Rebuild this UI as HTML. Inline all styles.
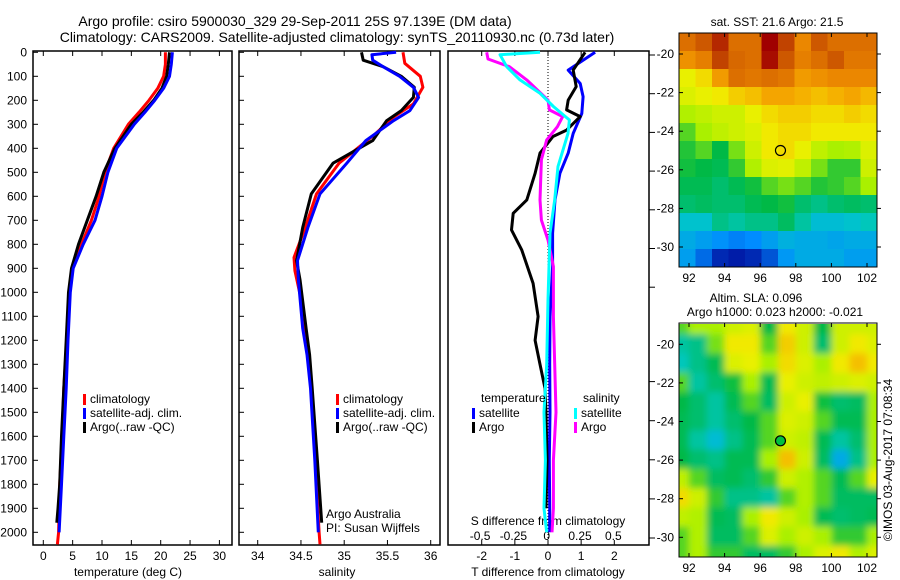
<!DOCTYPE html>
<html><head><meta charset="utf-8">
<style>
html,body{margin:0;padding:0;background:#fff;}
svg{display:block;font-family:"Liberation Sans",sans-serif;}
</style></head>
<body>
<svg id="fig" width="900" height="580" viewBox="0 0 900 580" xmlns="http://www.w3.org/2000/svg">
<defs>
<clipPath id="clipTop"><rect x="679" y="33" width="198" height="234"/></clipPath>
<clipPath id="clipBot"><rect x="679" y="324" width="198" height="233"/></clipPath>
<filter id="blur" x="-5%" y="-5%" width="110%" height="110%"><feGaussianBlur stdDeviation="3.5"/></filter>
</defs>
<text x="295" y="26" font-size="14" text-anchor="middle">Argo profile: csiro 5900030_329 29-Sep-2011 25S 97.139E (DM data)</text>
<text x="337" y="42" font-size="14" text-anchor="middle">Climatology: CARS2009. Satellite-adjusted climatology: synTS_20110930.nc (0.73d later)</text>
<g id="g1"></g>
<g id="g2"></g>
<g id="g3"></g>
<g id="g4"></g>
<g id="g5"></g>
<text x="0" y="0" font-size="12" transform="translate(892,460) rotate(-90)" text-anchor="middle">©IMOS 03-Aug-2017 07:08:34</text>
</svg>
<script>
// ---------- data ----------
const depthTicks = [0,100,200,300,400,500,600,700,800,900,1000,1100,1200,1300,1400,1500,1600,1700,1800,1900,2000];
const tempTicks = [0,5,10,15,20,25,30];
const salTicks = [34,34.5,35,35.5,36];
const tdiffTicks = [-2,-1,0,1,2];
const sdiffTicks = [-0.5,-0.25,0,0.25,0.5];
const sdiffTickLabels = ["-0.5","-0.25","0","0.25","0.5"];

const tClimDepth = [0,50,100,150,200,250,300,400,500,600,700,800,900,1000,1200,1400,1600,1800,2000,2050];
const tClimVal   = [20.8,20.8,20.5,19.5,18,16.3,14.5,12,10.5,9.5,8.2,6.5,5,4.5,4,3.5,3.2,2.8,2.6,2.4];
const tSatDepth  = [0,50,100,150,200,250,300,400,500,600,700,800,900,1000,1200,1400,1600,1800,2000];
const tSatVal    = [22,21.8,21.5,20.5,19,17.3,15.5,12.5,11,10,8.8,6.8,5.1,4.6,4.2,3.9,3.5,3.1,2.7];
const tArgoDepth = [0,50,100,150,200,250,300,400,500,600,700,800,900,1000,1200,1400,1600,1800,1900,1960];
const tArgoVal   = [21.5,21.3,21,20.2,18.8,17,15,12.2,10.3,9,7.5,6,4.8,4.3,3.9,3.5,3.1,2.8,2.5,2.3];

const sClimDepth = [0,46,100,146,215,270,340,462,590,730,855,910,1010,1150,1260,1500,1800,2000,2050];
const sClimVal   = [35.68,35.7,35.88,35.91,35.8,35.57,35.36,34.94,34.68,34.55,34.42,34.43,34.49,34.55,34.58,34.64,34.68,34.71,34.72];
const sSatDepth  = [0,10,33,60,100,146,188,243,285,368,462,590,730,868,950,1150,1260,1400,1700,2000];
const sSatVal    = [35.6,35.32,35.33,35.45,35.64,35.8,35.86,35.76,35.57,35.25,35.03,34.72,34.58,34.46,34.47,34.52,34.57,34.61,34.66,34.70];
const sArgoDepth = [0,33,60,100,146,188,243,285,368,462,590,730,868,950,1150,1260,1400,1700,1960];
const sArgoVal   = [35.2,35.22,35.45,35.66,35.81,35.8,35.66,35.49,35.33,34.87,34.62,34.52,34.45,34.49,34.56,34.6,34.63,34.69,34.74];

const dTSatDepth = [0,74,130,185,255,338,420,504,615,754,893,1101,1300,1500,1700,1900,2000];
const dTSatVal   = [1.42,0.61,0.97,1.06,1.02,0.76,0.61,0.36,0.21,0.14,0.14,0.06,0.05,0.06,0.04,0.05,0.05];
const dTArgoDepth= [0,74,143,199,240,268,324,351,420,504,615,671,740,824,963,1101,1200,1300,1400,1500,1700,1900];
const dTArgoVal  = [1.12,0.76,0.85,0.61,0.56,0.97,0.56,0.15,-0.24,-0.39,-0.64,-1.05,-1.1,-0.79,-0.45,-0.3,-0.39,-0.24,-0.09,-0.06,-0.03,-0.06];
const dSSatDepth = [0,10,60,115,171,226,282,338,476,615,754,1032,1300,1500,1700,1900,2000];
const dSSatVal   = [-0.05,-0.35,-0.3,-0.2,-0.05,0.05,0.17,0.16,0.085,0.06,0.025,0.01,0.0,-0.02,-0.01,-0.02,0.0];
const dSArgoDepth= [0,28,60,115,199,240,268,310,365,448,615,699,782,893,1101,1300,1500,1700,1900,2000];
const dSArgoVal  = [-0.45,-0.44,-0.28,-0.15,0.01,0.02,0.12,0.08,0.0,-0.04,-0.05,-0.04,0.01,0.05,0.05,0.06,0.07,0.05,0.05,0.04];

const sstGrid = [
[.85,.88,.92,.85,.85,.95,.9,.82,.88,.85,.85,.85],
[.8,.83,.9,.86,.85,.94,.88,.83,.85,.88,.84,.84],
[.64,.68,.78,.85,.84,.85,.84,.78,.8,.82,.82,.82],
[.62,.64,.66,.7,.72,.76,.76,.74,.72,.74,.76,.73],
[.56,.58,.6,.6,.64,.68,.7,.7,.68,.68,.7,.68],
[.5,.55,.58,.6,.62,.66,.68,.68,.66,.66,.66,.66],
[.47,.5,.45,.52,.6,.66,.68,.64,.58,.55,.56,.62],
[.46,.45,.44,.48,.56,.62,.63,.58,.52,.48,.48,.6],
[.44,.44,.42,.44,.46,.5,.52,.5,.47,.48,.5,.55],
[.42,.43,.42,.42,.44,.45,.46,.42,.4,.42,.43,.42],
[.34,.34,.4,.38,.4,.4,.43,.38,.33,.33,.34,.36],
[.3,.28,.26,.24,.25,.28,.31,.3,.3,.29,.3,.3],
[.28,.22,.16,.14,.16,.2,.27,.3,.3,.3,.28,.28]];
const slaGrid = [
[.5,.55,.55,.6,.62,.45,.66,.6,.45,.6,.6,.6],
[.38,.4,.52,.66,.66,.5,.7,.6,.42,.6,.66,.62],
[.36,.4,.44,.62,.64,.55,.68,.62,.55,.66,.72,.66],
[.5,.38,.42,.46,.55,.44,.64,.6,.58,.6,.62,.6],
[.45,.42,.38,.44,.5,.43,.6,.64,.46,.42,.43,.55],
[.44,.42,.38,.42,.45,.5,.62,.6,.5,.44,.44,.55],
[.44,.38,.33,.4,.44,.5,.6,.58,.44,.38,.42,.55],
[.45,.42,.4,.44,.44,.55,.72,.6,.43,.3,.4,.55],
[.58,.5,.43,.44,.42,.48,.6,.56,.5,.44,.5,.64],
[.68,.6,.48,.4,.4,.38,.5,.56,.5,.43,.43,.43],
[.58,.56,.44,.43,.55,.66,.6,.55,.44,.42,.43,.44],
[.5,.56,.43,.43,.5,.62,.55,.6,.55,.48,.48,.55],
[.5,.56,.48,.48,.43,.43,.48,.55,.62,.66,.56,.62]];
const lonTicks = [92,94,96,98,100,102];
const latTicks = [-20,-22,-24,-26,-28,-30];
const argoLon = 97.139, argoLat = -25;

// ---------- helpers ----------
const NS = "http://www.w3.org/2000/svg";
function mk(parent, tag, attrs, text){
  const e = document.createElementNS(NS, tag);
  for (const k in attrs) e.setAttribute(k, attrs[k]);
  if (text !== undefined) e.textContent = text;
  parent.appendChild(e); return e;
}
const yD = d => 52.3 + 0.24*d;
const xT = t => 43.3 + 5.87*t;
const xS = s => 257.7 + 86.5*(s-34);
const xDT = v => 548 + 33.15*v;
const xDS = v => 546.7 + 133.3*v;
const PT = 51, PB = 545;

function frame(g, x0, x1, name){
  const r = mk(g,'rect',{x:x0,y:PT,width:x1-x0,height:PB-PT,fill:'#fff',stroke:'#000','stroke-width':1.5});
  
  
}
function series(g, depths, vals, xf, color, name, w){
  const pts = depths.map((d,i)=> xf(vals[i]).toFixed(1)+','+yD(d).toFixed(1)).join(' ');
  const p = mk(g,'polyline',{points:pts,fill:'none',stroke:color,'stroke-width':w||3,'stroke-linejoin':'round'});
  
  
}
function xTicks(g, ticks, xf, labels, y, name){
  ticks.forEach((t,i)=>{
    const x = xf(t);
    mk(g,'line',{x1:x,x2:x,y1:PT,y2:PT+5,stroke:'#000'});
    mk(g,'line',{x1:x,x2:x,y1:PB,y2:PB-5,stroke:'#000'});
    if (labels){
      const tx = mk(g,'text',{x:x,y:y,'font-size':12,'text-anchor':'middle'}, labels[i]);
      
      
    }
  });
}
function yTicksIn(g, x0){
  depthTicks.forEach(d=>{
    const y = yD(d);
    mk(g,'line',{x1:x0,x2:x0+5,y1:y,y2:y,stroke:'#000'});
  });
}
function legendItem(g, x, y, color, label, name){
  mk(g,'rect',{x:x,y:y-9,width:3,height:11,fill:color});
  const t = mk(g,'text',{x:x+7,y:y,'font-size':12}, label);
  
  
}

// ---------- panel 1 ----------
const g1 = document.getElementById('g1');
frame(g1, 33, 232, 'temperature-plot-area');
yTicksIn(g1, 33);
depthTicks.forEach(d=>{
  const t = mk(g1,'text',{x:27,y:yD(d)+4,'font-size':12,'text-anchor':'end'}, String(d));
  
  
});
xTicks(g1, tempTicks, xT, tempTicks.map(String), 560, 'temperature-tick-label');
mk(g1,'text',{x:128,y:576,'font-size':12,'text-anchor':'middle',},'temperature (deg C)');
series(g1, tClimDepth, tClimVal, xT, '#f00', 'temperature-climatology-line');
series(g1, tArgoDepth, tArgoVal, xT, '#000', 'temperature-argo-line');
series(g1, tSatDepth, tSatVal, xT, '#00f', 'temperature-satellite-line');
legendItem(g1, 83, 403, '#f00', 'climatology', 'legend-climatology');
legendItem(g1, 83, 417, '#00f', 'satellite-adj. clim.', 'legend-satellite-adj');
legendItem(g1, 83, 431, '#000', 'Argo(..raw -QC)', 'legend-argo');

// ---------- panel 2 ----------
const g2 = document.getElementById('g2');
frame(g2, 239, 440, 'salinity-plot-area');
yTicksIn(g2, 239);
xTicks(g2, salTicks, xS, salTicks.map(String), 560, 'salinity-tick-label');
mk(g2,'text',{x:337,y:576,'font-size':12,'text-anchor':'middle',},'salinity');
series(g2, sClimDepth, sClimVal, xS, '#f00', 'salinity-climatology-line');
series(g2, sArgoDepth, sArgoVal, xS, '#000', 'salinity-argo-line');
series(g2, sSatDepth, sSatVal, xS, '#00f', 'salinity-satellite-line');
legendItem(g2, 336, 403, '#f00', 'climatology', 'legend-climatology');
legendItem(g2, 336, 417, '#00f', 'satellite-adj. clim.', 'legend-satellite-adj');
legendItem(g2, 336, 431, '#000', 'Argo(..raw -QC)', 'legend-argo');
mk(g2,'text',{x:326,y:518,'font-size':12,},'Argo Australia');
mk(g2,'text',{x:326,y:532,'font-size':12,},'PI: Susan Wijffels');

// ---------- panel 3 ----------
const g3 = document.getElementById('g3');
frame(g3, 448, 649, 'difference-plot-area');
xTicks(g3, tdiffTicks, xDT, tdiffTicks.map(String), 560, 'tdiff-tick-label');
sdiffTicks.forEach((v,i)=>{
  const t = mk(g3,'text',{x:xDS(v),y:540,'font-size':12,'text-anchor':'middle'}, sdiffTickLabels[i]);
  
  
});
mk(g3,'text',{x:548,y:525,'font-size':12,'text-anchor':'middle',},'S difference from climatology');
mk(g3,'text',{x:548,y:576,'font-size':12,'text-anchor':'middle',},'T difference from climatology');
for (let k=0;k<7;k++){ const y=55+38.7*k; mk(g3,'line',{x1:649,x2:655,y1:y,y2:y,stroke:'#000'}); }
for (let k=0;k<5;k++){ const y=538-39.1*k; mk(g3,'line',{x1:649,x2:655,y1:y,y2:y,stroke:'#000'}); }
mk(g3,'line',{x1:548,x2:548,y1:PT,y2:PB,stroke:'#000','stroke-dasharray':'1,2',});
series(g3, dTSatDepth, dTSatVal, xDT, '#00f', 'tdiff-satellite-line');
series(g3, dTArgoDepth, dTArgoVal, xDT, '#000', 'tdiff-argo-line');
series(g3, dSArgoDepth, dSArgoVal, xDS, '#f0f', 'sdiff-argo-line');
series(g3, dSSatDepth, dSSatVal, xDS, '#0ff', 'sdiff-satellite-line');
mk(g3,'text',{x:481,y:402,'font-size':12,},'temperature');
mk(g3,'text',{x:583,y:402,'font-size':12,},'salinity');
legendItem(g3, 472, 417, '#00f', 'satellite', 'legend-t-satellite');
legendItem(g3, 472, 431, '#000', 'Argo', 'legend-t-argo');
legendItem(g3, 574, 417, '#0ff', 'satellite', 'legend-s-satellite');
legendItem(g3, 574, 431, '#f0f', 'Argo', 'legend-s-argo');

// ---------- maps ----------
const cmapStops = [[0,[0,0,140]],[0.15,[0,30,170]],[0.25,[0,140,255]],[0.35,[0,200,200]],[0.45,[0,185,70]],[0.55,[170,240,0]],[0.65,[240,240,0]],[0.75,[245,170,0]],[0.82,[235,135,0]],[0.89,[200,80,0]],[0.95,[160,0,0]],[1,[120,0,0]]];
function cmap(v){
  for (let i=1;i<cmapStops.length;i++){
    if (v<=cmapStops[i][0]){
      const a=cmapStops[i-1], b=cmapStops[i], f=(v-a[0])/(b[0]-a[0]);
      const c=a[1].map((c0,j)=>Math.round(c0+(b[1][j]-c0)*f));
      return 'rgb('+c.join(',')+')';
    }
  }
  return 'rgb(120,0,0)';
}
function drawMap(gid, grid, top, latYf, clipId, blur, name){
  const g = document.getElementById(gid);
  const x0=679, x1=877, y0=top, y1=top+234;
  const lonX = lon => 689 + (lon-92)*17.8;
  const cg = mk(g,'g',{'clip-path':'url(#'+clipId+')'});
  const inner = mk(cg,'g', blur ? {filter:'url(#blur)'} : {});
  const rows=grid.length, cols=grid[0].length;
  const pad = blur ? 8 : 0;
  const cw=(x1-x0+2*pad)/cols, ch=(y1-y0+2*pad)/rows;
  grid.forEach((row,r)=>row.forEach((v,c)=>{
    const cell = mk(inner,'rect',{x:(x0-pad+c*cw).toFixed(2),y:(y0-pad+r*ch).toFixed(2),width:(cw+0.6).toFixed(2),height:(ch+0.6).toFixed(2),fill:cmap(v)});
    
    
  }));
  mk(g,'rect',{x:x0,y:y0,width:x1-x0,height:y1-y0,fill:'none',stroke:'#000'});
  lonTicks.forEach(l=>{
    const x=lonX(l);
    mk(g,'line',{x1:x,x2:x,y1:y0,y2:y0+4,stroke:'#000'});
    mk(g,'line',{x1:x,x2:x,y1:y1,y2:y1-4,stroke:'#000'});
    const t=mk(g,'text',{x:x,y:y1+15,'font-size':12,'text-anchor':'middle'},String(l));
    
    
  });
  latTicks.forEach(l=>{
    const y=latYf(l);
    mk(g,'line',{x1:x0,x2:x0+4,y1:y,y2:y,stroke:'#000'});
    mk(g,'line',{x1:x1,x2:x1+4,y1:y,y2:y,stroke:'#000'});
    const t=mk(g,'text',{x:x0-5,y:y+4,'font-size':12,'text-anchor':'end'},String(l));
    
    
  });
  const m = mk(g,'circle',{cx:lonX(argoLon),cy:latYf(argoLat),r:5,fill:blur?'#00c040':'none',stroke:'#000','stroke-width':1.2});
  
  
}
drawMap('g4', sstGrid, 33, lat=>54+(-20-lat)*19.3, 'clipTop', false, 'sst-map');
drawMap('g5', slaGrid, 323, lat=>344.3+(-20-lat)*19.3, 'clipBot', true, 'sla-map');
const g4=document.getElementById('g4'), g5=document.getElementById('g5');
mk(g4,'text',{x:777,y:26,'font-size':12,'text-anchor':'middle',},'sat. SST: 21.6 Argo: 21.5');
mk(g5,'text',{x:756,y:302,'font-size':12,'text-anchor':'middle',},'Altim. SLA: 0.096');
mk(g5,'text',{x:775,y:316,'font-size':12,'text-anchor':'middle',},'Argo h1000: 0.023 h2000: -0.021');
</script>
</body></html>
